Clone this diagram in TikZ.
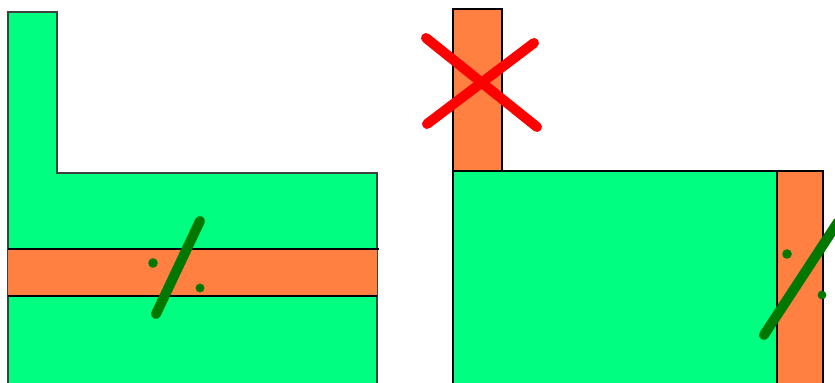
\documentclass[tikz,border=0pt]{standalone}
\usepackage{tikz}

\definecolor{wallgreen}{RGB}{0,255,128}
\definecolor{slaborange}{RGB}{255,128,64}
\definecolor{markgreen}{RGB}{0,120,0}
\definecolor{markred}{RGB}{255,0,0}

\begin{document}
\begin{tikzpicture}[
  x=0.5pt, y=-0.5pt,
  wall/.style={fill=wallgreen, draw=black!75, line width=0.6pt},
  slab/.style={fill=slaborange, draw=black, line width=1pt},
  okmark/.style={draw=markgreen, line width=5pt, line cap=round},
  badmark/.style={draw=markred, line width=5pt, line cap=round},
  blob/.style={fill=markgreen}
]
\useasboundingbox (0,0) rectangle (835,383);

% left: L-shaped wall with orange band
\fill[wallgreen] (8,12) -- (57,12) -- (57,173) -- (377,173) -- (377,383) -- (8,383) -- cycle;
\draw[draw=black!75, line width=0.6pt] (8,383) -- (8,12) -- (57,12) -- (57,173) -- (377,173) -- (377,383);
\fill[slaborange] (8,249) rectangle (377,296);
\draw[line width=1.2pt] (8,249) -- (379,249);
\draw[line width=1.2pt] (8,296) -- (377,296);
\draw[okmark] (200,221) -- (156,314);
\fill[blob] (153,263) circle (2.4pt);
\fill[blob] (200,288) circle (2.2pt);

% right: orange post on top, wall, orange post at side
\fill[wallgreen] (453,171) rectangle (777,383);
\draw[line width=0.6pt] (453,383) -- (453,171) -- (777,171);
\draw[slab] (453,9) rectangle (502,171);
\draw[slab] (777,383) -- (777,171) -- (823,171) -- (823,383);
\draw[badmark] (426,38) -- (537,127);
\draw[badmark] (427,124) -- (534,43);
\draw[okmark] (764,335) -- (838,222);
\fill[blob] (787,254) circle (2.4pt);
\fill[blob] (822,295) circle (2.2pt);
\end{tikzpicture}
\end{document}
